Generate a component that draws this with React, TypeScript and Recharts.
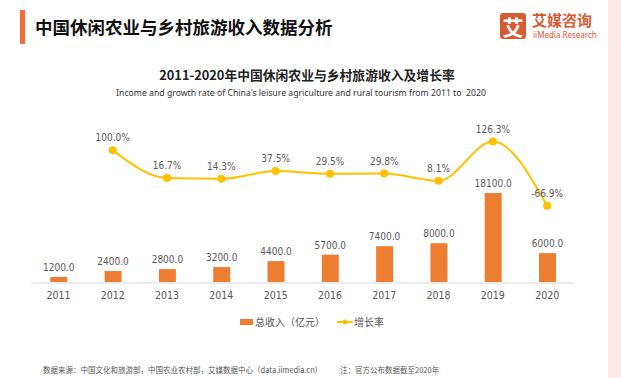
import React from "react"
import { Bar, ComposedChart, LabelList, Line, XAxis, YAxis } from "recharts"

const years = ["2011", "2012", "2013", "2014", "2015", "2016", "2017", "2018", "2019", "2020"]
const income = [1200, 2400, 2800, 3200, 4400, 5700, 7400, 8000, 18100, 6000]
const growth = [null, 100.0, 16.7, 14.3, 37.5, 29.5, 29.8, 8.1, 126.3, -66.9]

const data = years.map((year, i) => ({ year, income: income[i], growth: growth[i] }))

const CJK = '"Noto Sans CJK SC", "Noto Sans", sans-serif'
const NUM = '"Liberation Sans Narrow", "DejaVu Sans Condensed", "Liberation Sans", sans-serif'
const ORANGE = "#ED7D31"
const GOLD = "#FFC000"
const BRAND = "#D65B32"

export default function App() {
  return (
    <div
      style={{
        position: "absolute",
        left: 0,
        top: 0,
        width: 621,
        height: 378,
        background: "#fff",
        overflow: "hidden",
        fontFamily: CJK,
      }}
    >
      {/* header */}
      <div style={{ position: "absolute", left: 20, top: 10, width: 5, height: 34, background: "#F26B3A" }} />
      <div
        style={{
          position: "absolute",
          left: 35,
          top: 15,
          fontSize: 17.5,
          fontWeight: 700,
          color: "#111",
          lineHeight: "24px",
          whiteSpace: "nowrap",
        }}
      >
        中国休闲农业与乡村旅游收入数据分析
      </div>

      {/* logo */}
      <div
        style={{
          position: "absolute",
          left: 500,
          top: 13,
          width: 26,
          height: 26,
          background: BRAND,
          borderRadius: 3,
          color: "#fff",
          fontSize: 21,
          fontWeight: 700,
          lineHeight: "26px",
          textAlign: "center",
        }}
      >
        艾
      </div>
      <div
        style={{
          position: "absolute",
          left: 532,
          top: 11,
          fontSize: 15,
          fontWeight: 700,
          color: BRAND,
          lineHeight: "18px",
          whiteSpace: "nowrap",
        }}
      >
        艾媒咨询
      </div>
      <div
        style={{
          position: "absolute",
          left: 533,
          top: 30,
          fontSize: 8,
          color: BRAND,
          fontFamily: '"Noto Sans", sans-serif',
          lineHeight: "10px",
          whiteSpace: "nowrap",
        }}
      >
        iiMedia Research
      </div>
      <div style={{ position: "absolute", left: 608, top: 0, width: 13, height: 378, background: "#FCE8E8" }} />

      {/* chart titles */}
      <div
        style={{
          position: "absolute",
          left: 0,
          width: 614,
          top: 65,
          textAlign: "center",
          fontSize: 12.8,
          fontWeight: 700,
          color: "#222",
          lineHeight: "20px",
          whiteSpace: "nowrap",
        }}
      >
        2011-2020年中国休闲农业与乡村旅游收入及增长率
      </div>
      <div
        style={{
          position: "absolute",
          left: 0,
          width: 602,
          top: 86,
          textAlign: "center",
          fontSize: 8.7,
          color: "#333",
          fontFamily: '"Noto Sans", sans-serif',
          lineHeight: "14px",
          whiteSpace: "pre",
        }}
      >
        Income and growth rate of China's leisure agriculture and rural tourism from 2011 to  2020
      </div>

      {/* chart */}
      <div style={{ position: "absolute", left: 0, top: 0 }}>
        <ComposedChart
          width={621}
          height={378}
          data={data}
          margin={{ top: 84, right: 46.7, bottom: 65, left: 31.3 }}
        >
          <XAxis
            dataKey="year"
            height={30}
            tickLine={false}
            tickSize={0}
            tickMargin={9}
            axisLine={{ stroke: "#ececec", strokeWidth: 2 }}
            tick={{ fill: "#595959", fontSize: 10.5, fontFamily: NUM }}
            interval={0}
          />
          <YAxis yAxisId="income" hide domain={[0, 40000]} />
          <YAxis yAxisId="growth" hide orientation="right" domain={[-300, 300]} />
          <Bar yAxisId="income" dataKey="income" fill={ORANGE} barSize={17} isAnimationActive={false}>
            <LabelList
              dataKey="income"
              position="top"
              offset={6}
              formatter={(v: number) => v.toFixed(1)}
              style={{ fill: "#595959", fontSize: 10, fontFamily: NUM }}
            />
          </Bar>
          <Line
            yAxisId="growth"
            dataKey="growth"
            type="monotone"
            stroke={GOLD}
            strokeWidth={2}
            dot={{ r: 4, fill: GOLD, stroke: GOLD, strokeWidth: 0 }}
            activeDot={false}
            connectNulls={false}
            isAnimationActive={false}
          >
            <LabelList
              dataKey="growth"
              position="top"
              offset={9}
              formatter={(v: number | null) => (v == null ? "" : v.toFixed(1) + "%")}
              style={{ fill: "#595959", fontSize: 10, fontFamily: NUM }}
            />
          </Line>
        </ComposedChart>
      </div>

      {/* legend */}
      <div
        style={{
          position: "absolute",
          left: 240,
          top: 315,
          display: "flex",
          alignItems: "center",
          fontSize: 10,
          color: "#555",
          lineHeight: "14px",
          whiteSpace: "nowrap",
        }}
      >
        <span style={{ display: "inline-block", width: 13, height: 6, background: ORANGE, marginRight: 2 }} />
        <span>总收入（亿元）</span>
        <svg width={16} height={10} style={{ marginLeft: 12, marginRight: 1 }}>
          <line x1={0} y1={5} x2={16} y2={5} stroke={GOLD} strokeWidth={2} />
          <circle cx={8} cy={5} r={2.5} fill={GOLD} />
        </svg>
        <span>增长率</span>
      </div>

      {/* footer */}
      <div
        style={{
          position: "absolute",
          left: 43,
          top: 365,
          fontSize: 7.5,
          color: "#555",
          lineHeight: "10px",
          whiteSpace: "nowrap",
        }}
      >
        数据来源：中国文化和旅游部，中国农业农村部，艾媒数据中心（data.iimedia.cn）
      </div>
      <div
        style={{
          position: "absolute",
          left: 340,
          top: 365,
          fontSize: 7.5,
          color: "#555",
          lineHeight: "10px",
          whiteSpace: "nowrap",
        }}
      >
        注：官方公布数据截至2020年
      </div>
    </div>
  )
}
